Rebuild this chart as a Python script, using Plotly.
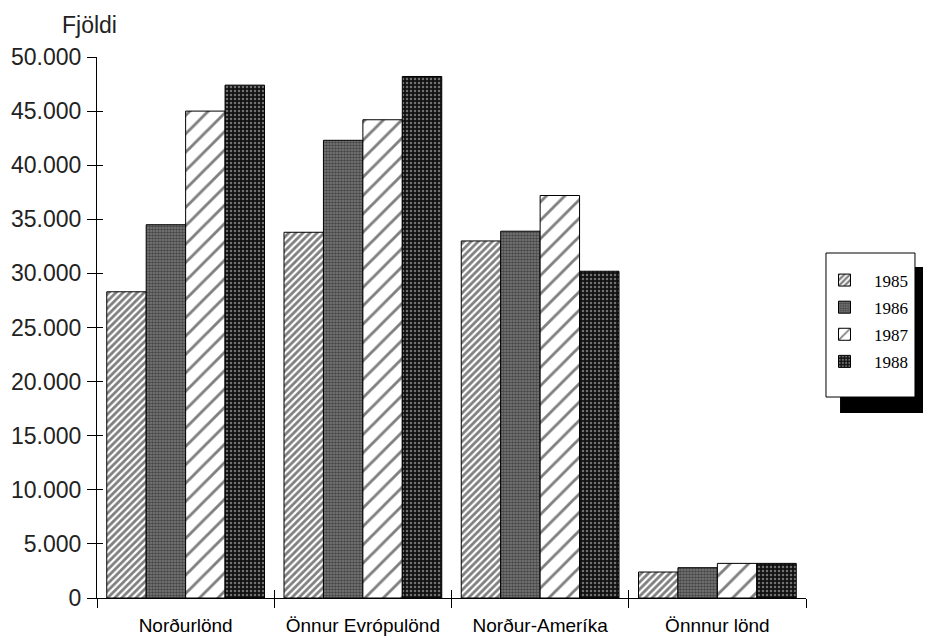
import plotly.graph_objects as go

categories = ["Norðurlönd", "Önnur Evrópulönd", "Norður-Ameríka", "Önnnur lönd"]
years = ["1985", "1986", "1987", "1988"]
v1985 = [28300, 33800, 33000, 2400]
v1986 = [34500, 42300, 33900, 2800]
v1987 = [45000, 44200, 37200, 3200]
v1988 = [47400, 48200, 30200, 3200]
series = [v1985, v1986, v1987, v1988]
y_ticks = [0, 5000, 10000, 15000, 20000, 25000, 30000, 35000, 40000, 45000, 50000]
y_title = "Fjöldi"

patterns = {
    "1985": dict(shape="/", size=5, solidity=0.55, fgcolor="black", bgcolor="white"),
    "1986": dict(shape=".", size=3, solidity=0.55, fgcolor="#111111", bgcolor="#7c7c7c"),
    "1987": dict(shape="/", size=13, solidity=0.22, fgcolor="black", bgcolor="white"),
    "1988": dict(shape=".", size=4, solidity=0.3, fgcolor="#d0d0d0", bgcolor="#111111"),
}

fig = go.Figure()
for yr, vals in zip(years, series):
    fig.add_trace(go.Bar(
        x=categories, y=vals, name=yr, legendgroup=yr,
        marker=dict(color="white", line=dict(color="black", width=1),
                    pattern=patterns[yr]),
    ))

# helper trace for the inner half of crossing ticks
fig.add_trace(go.Scatter(x=categories, y=[None] * len(categories), xaxis="x2", yaxis="y2",
                         showlegend=False, hoverinfo="skip", mode="markers"))

fig.update_layout(
    width=931, height=638,
    margin=dict(l=89, r=133, t=49, b=48, autoexpand=False),
    plot_bgcolor="white", paper_bgcolor="white",
    bargap=0.11, bargroupgap=0,
    separators=",.",
    font=dict(family="Liberation Sans, Arial, sans-serif", color="#222"),
    xaxis=dict(type="category", categoryorder="array", categoryarray=categories,
               range=[-0.5, 3.5], showline=True, linecolor="black", linewidth=1,
               ticks="outside", tickson="boundaries", ticklen=9, tickcolor="black",
               tickfont=dict(size=19, color="black"), showgrid=False, zeroline=False,
               ticklabelstandoff=10, automargin=False),
    yaxis=dict(range=[0, 50000], tickvals=y_ticks, tickformat=",d",
               showline=True, linecolor="black", linewidth=1,
               ticks="outside", ticklen=9, tickcolor="black",
               tickfont=dict(size=23, color="#222"), showgrid=False, zeroline=False,
               ticklabelstandoff=1, automargin=False),
    xaxis2=dict(type="category", categoryorder="array", categoryarray=categories,
                range=[-0.5, 3.5], overlaying="x", ticks="inside", tickson="boundaries",
                ticklen=8, tickcolor="black", showticklabels=False, showgrid=False,
                zeroline=False, showline=False, automargin=False),
    yaxis2=dict(range=[0, 50000], tickvals=y_ticks, overlaying="y", ticks="inside",
                ticklen=6, tickcolor="black", showticklabels=False, showgrid=False,
                zeroline=False, showline=False, automargin=False),
    legend=dict(x=1.0127, y=0.6201, xanchor="left", yanchor="top",
                bgcolor="rgba(0,0,0,0)", borderwidth=0, itemwidth=49,
                font=dict(family="Liberation Serif, Times New Roman, serif", size=17, color="black"),
                traceorder="grouped", tracegroupgap=2),
    annotations=[dict(text=y_title, xref="paper", yref="paper", x=-0.052, y=1.059,
                      xanchor="left", yanchor="middle", showarrow=False,
                      font=dict(size=23, color="#222"))],
    shapes=[
        dict(type="rect", xref="paper", yref="paper",
             x0=1.048, x1=1.1904, y0=0.342, y1=0.6118,
             fillcolor="black", line=dict(width=0), layer="above"),
        dict(type="rect", xref="paper", yref="paper",
             x0=1.0282, x1=1.1537, y0=0.3715, y1=0.6377,
             fillcolor="white", line=dict(color="black", width=1), layer="above"),
    ],
)

fig.write_html("out.html")
